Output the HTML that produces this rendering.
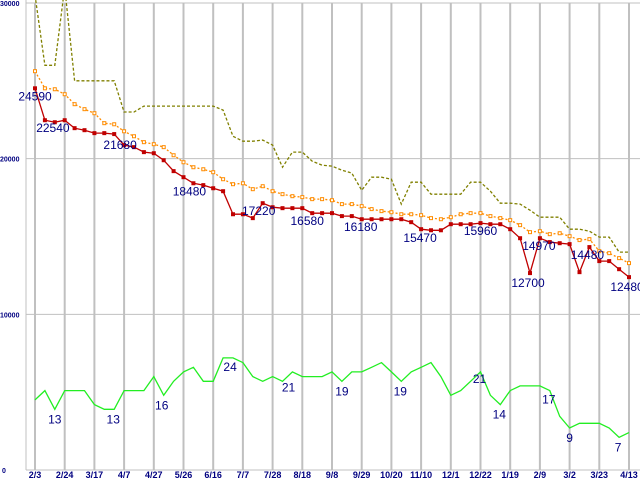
<!DOCTYPE html>
<html><head><meta charset="utf-8"><style>
body{margin:0;background:#fff}
svg{display:block;font-family:"Liberation Sans",sans-serif}
</style></head><body>
<svg id="c" width="640" height="480" viewBox="0 0 640 480" xmlns="http://www.w3.org/2000/svg"></svg>
<script>
const xLabels=["2/3","2/24","3/17","4/7","4/27","5/26","6/16","7/7","7/28","8/18","9/8","9/29","10/20","11/10","12/1","12/22","1/19","2/9","3/2","3/23","4/13"];
const yTicks=[0,10000,20000,30000];
const redValues=[24520,22470,22340,22470,21960,21830,21640,21640,21580,20870,20740,20420,20350,19900,19200,18810,18420,18300,18100,17910,16430,16430,16180,17140,16880,16820,16820,16820,16500,16500,16500,16310,16310,16110,16110,16110,16110,16110,15920,15470,15400,15400,15790,15790,15790,15860,15790,15790,15470,14890,12650,14890,14640,14570,14510,12710,14320,13420,13420,12900,12390];
const orangeValues=[25620,24520,24460,24140,23500,23180,22920,22280,22210,21760,21440,21060,20930,20740,20220,19770,19450,19320,19130,18680,18360,18420,18040,18230,17910,17720,17590,17530,17400,17400,17330,17080,17080,16950,16760,16630,16560,16430,16430,16370,16180,16110,16240,16430,16500,16500,16310,16180,16050,15730,15280,15340,15150,15210,15020,14770,14830,14060,13930,13610,13290];
const oliveValues=[30500,26000,26000,31000,25000,25000,25000,25000,25000,23000,23000,23380,23380,23380,23380,23380,23380,23380,23380,23120,21440,21120,21120,21190,20870,19450,20420,20420,19840,19580,19520,19260,19070,17970,18810,18810,18680,17080,18490,18490,17720,17720,17720,17720,18490,18490,17910,17140,17140,17080,16690,16240,16240,16240,15470,15470,15340,14960,14960,14000,14000];
const greenCounts=[15,17,13,17,17,17,14,13,13,17,17,17,20,16,19,21,22,19,19,24,24,23,20,19,20,19,21,20,20,20,21,19,21,21,22,23,21,19,21,22,23,20,16,17,19,21,16,14,17,18,18,18,17,11.5,9,10,10,10,9,7,8];
const redLabels=[[0,"24590",0,12],[1,"22540",8,12],[9,"21680",-4,4],[16,"18480",-4,12],[23,"17220",-4,12],[28,"16580",-5,12],[33,"16180",-1,12],[39,"15470",-1,13],[45,"15960",0,12],[50,"12700",-2,14],[51,"14970",-1,12],[56,"14480",-2,12],[60,"12480",-2,14]];
const greenLabels=[[2,"13",0,14],[8,"13",-1,14],[13,"16",-2,14],[19,"24",7,13],[25,"21",6,10],[31,"19",0,14],[37,"19",-1,14],[45,"21",-1,11],[47,"14",-1,14],[52,"17",-1,13],[54,"9",0,14],[59,"7",-1,14]];
const NS="http://www.w3.org/2000/svg";
const svg=document.getElementById('c');
const x0=35,dx=9.9,y0=470,yk=467/30000;
function xs(i){return x0+i*dx;}
function ys(v){return y0-v*yk;}
function mk(t,a,p){const e=document.createElementNS(NS,t);for(const k in a)e.setAttribute(k,a[k]);(p||svg).appendChild(e);return e;}
// grid
xLabels.forEach((l,j)=>{
 const g=mk('line',{x1:xs(j*3),x2:xs(j*3),y1:3,y2:470,stroke:'#c0c0c0','stroke-width':2});
 
 
 const t=mk('text',{x:xs(j*3),y:478,'text-anchor':'middle','font-size':9,'font-weight':'bold',fill:'#000080'});
 t.textContent=l;
 
 
});
yTicks.forEach(v=>{
 const g=mk('line',{x1:26,x2:640,y1:ys(v),y2:ys(v),stroke:'#c0c0c0','stroke-width':1});
 
 
 const t=mk('text',{x:v==0?2:0,y:ys(v)+3,'font-size':7,'font-weight':'bold',fill:'#000080'});
 t.textContent=String(v);
 
 
});
const ax=mk('line',{x1:26,x2:26,y1:0,y2:470,stroke:'#c0c0c0','stroke-width':1});


function pts(arr,f){return arr.map((v,i)=>xs(i).toFixed(1)+','+ys(f(v)).toFixed(1)).join(' ');}
const ol=mk('polyline',{points:pts(oliveValues,v=>v),fill:'none',stroke:'#808000','stroke-width':1.3,'stroke-dasharray':'3,2'});


const or=mk('polyline',{points:pts(orangeValues,v=>v),fill:'none',stroke:'#ff8c00','stroke-width':1.3,'stroke-dasharray':'2,2'});


orangeValues.forEach((v,i)=>{const r=mk('rect',{x:xs(i)-1.5,y:ys(v)-1.5,width:3,height:3,fill:'#fff',stroke:'#ff8c00','stroke-width':1});
 
 });
const rd=mk('polyline',{points:pts(redValues,v=>v),fill:'none',stroke:'#c00000','stroke-width':1.3});


redValues.forEach((v,i)=>{const r=mk('rect',{x:xs(i)-2,y:ys(v)-2,width:4,height:4,fill:'#c00000'});
 
 });
const gr=mk('polyline',{points:pts(greenCounts,v=>v*300),fill:'none',stroke:'#22ee22','stroke-width':1.3});


function lbl(L,arr,f,name){L.forEach(([i,s,ox,oy])=>{const t=mk('text',{x:xs(i)+ox,y:ys(f(arr[i]))+oy,'text-anchor':'middle','font-size':12,fill:'#000080'});
 t.textContent=s;
 
 });}
lbl(redLabels,redValues,v=>v,'red-value-label');
lbl(greenLabels,greenCounts,v=>v*300,'green-value-label');
</script>
</body></html>
